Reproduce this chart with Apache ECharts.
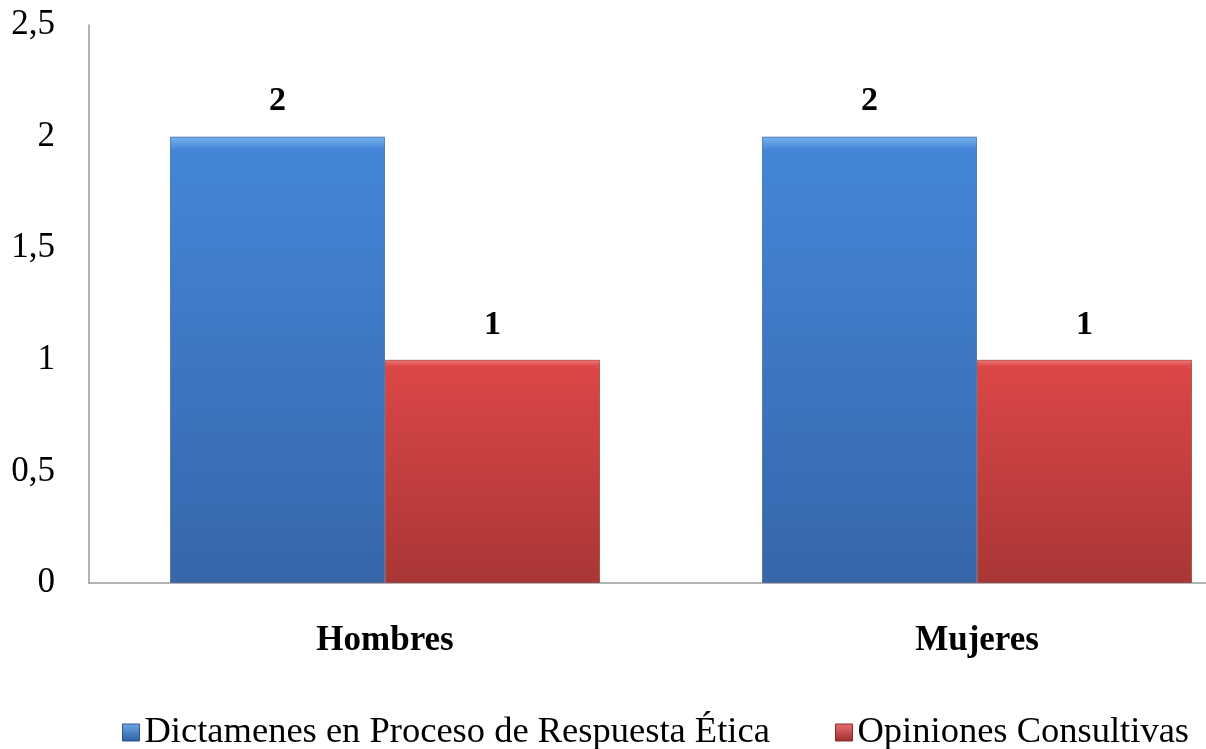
<!DOCTYPE html>
<html>
<head>
<meta charset="utf-8">
<script src="https://cdn.jsdelivr.net/npm/echarts@6/dist/echarts.min.js"></script>
<style>html,body{margin:0;padding:0;background:#fff;overflow:hidden;width:1206px;height:749px;}#c{width:1273px;height:749px;}</style>
</head>
<body>
<div id="c"></div>
<script>
const categories = ['Hombres', 'Mujeres'];
const seriesNames = ['Dictamenes en Proceso de Respuesta Ética', 'Opiniones Consultivas'];
const dictamenes = [2, 2];
const opiniones = [1, 1];

const FONT = '"Liberation Serif", "Times New Roman", serif';
function grad(top, mid, bottom) {
  return new echarts.graphic.LinearGradient(0, 0, 0, 1, [
    { offset: 0, color: top }, { offset: 0.03, color: mid }, { offset: 1, color: bottom }
  ]);
}
const blue = grad('#7ab4f0', '#4386d8', '#3766a9');
const red = grad('#f07a7a', '#dc4646', '#a93636');
const blueIcon = new echarts.graphic.LinearGradient(0, 0, 0, 1, [
  { offset: 0, color: '#6fa8ea' }, { offset: 1, color: '#2f5e9e' }
]);
const redIcon = new echarts.graphic.LinearGradient(0, 0, 0, 1, [
  { offset: 0, color: '#ea6f6f' }, { offset: 1, color: '#9e2f2f' }
]);

const legendText = { fontFamily: FONT, fontSize: 36.5, color: '#000' };

const chart = echarts.init(document.getElementById('c'));
chart.setOption({
  animation: false,
  backgroundColor: '#fff',
  grid: { left: 89, top: 25, right: 0, height: 558, containLabel: false },
  legend: [
    {
      top: 709, left: 117, itemWidth: 17, itemHeight: 17, icon: 'rect', itemGap: 0,
      textStyle: legendText,
      data: [{ name: seriesNames[0], itemStyle: { color: blueIcon, borderColor: '#2a5590', borderWidth: 1 } }]
    },
    {
      top: 709, left: 830, itemWidth: 17, itemHeight: 17, icon: 'rect', itemGap: 0,
      textStyle: legendText,
      data: [{ name: seriesNames[1], itemStyle: { color: redIcon, borderColor: '#8e2a2a', borderWidth: 1 } }]
    }
  ],
  xAxis: {
    type: 'category',
    data: categories,
    axisLine: { lineStyle: { color: '#9a9a9a', width: 1.5 } },
    axisTick: { show: false },
    axisLabel: { fontFamily: FONT, fontSize: 35, fontWeight: 'bold', color: '#000', margin: 40 }
  },
  yAxis: {
    type: 'value',
    min: 0, max: 2.5, interval: 0.5,
    axisLine: { show: true, lineStyle: { color: '#9a9a9a', width: 1.5 } },
    axisTick: { show: false },
    splitLine: { show: false },
    axisLabel: {
      fontFamily: FONT, fontSize: 35, color: '#000', margin: 34,
      formatter: v => String(v).replace('.', ',')
    }
  },
  series: [
    {
      name: seriesNames[0], type: 'bar', data: dictamenes,
      barWidth: 215, barGap: '0%',
      itemStyle: { color: blue, borderColor: 'rgba(40,80,140,0.6)', borderWidth: 1 },
      label: { show: true, position: 'top', distance: 18, fontFamily: FONT, fontSize: 34, fontWeight: 'bold', color: '#000' }
    },
    {
      name: seriesNames[1], type: 'bar', data: opiniones,
      barWidth: 215, barGap: '0%',
      itemStyle: { color: red, borderColor: 'rgba(140,40,40,0.6)', borderWidth: 1 },
      label: { show: true, position: 'top', distance: 18, fontFamily: FONT, fontSize: 34, fontWeight: 'bold', color: '#000' }
    }
  ]
});
</script>
</body>
</html>
